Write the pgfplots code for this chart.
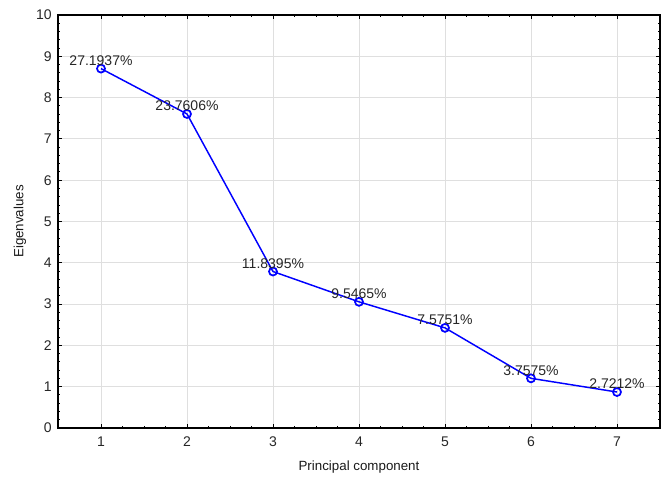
\documentclass[border=0pt]{standalone}
\usepackage{fontspec}
\setmainfont{Liberation Sans}
\usepackage{pgfplots}
\pgfplotsset{compat=1.18}
\begin{document}
\fontsize{10.5pt}{12pt}\selectfont
\begin{tikzpicture}
\useasboundingbox (-43.5pt,-36.75pt) rectangle (457.5pt,321pt);
\begin{axis}[
  scale only axis,
  width=451.5pt, height=309.75pt,
  xmin=0.5, xmax=7.5, ymin=0, ymax=10,
  xtick={1,...,7}, ytick={0,...,10},
  minor x tick num=3, minor y tick num=4,
  tick align=inside,
  major tick length=3pt, minor tick length=1.8pt,
  axis line style={black, line width=1.3pt},
  every tick/.style={black, line width=0.7pt},
  grid=major,
  major grid style={gray!25, line width=0.7pt},
  /pgf/number format/assume math mode=true,
  tick label style={font=\fontsize{10.5pt}{12pt}\selectfont, text=black!85},
  xticklabel style={yshift=-3pt},
  yticklabel style={xshift=-1pt},
  xlabel={Principal component},
  ylabel={Eigenvalues},
  label style={font=\fontsize{10pt}{12pt}\selectfont, text=black!90},
  xlabel style={at={(axis description cs:0.5,0)}, anchor=base, yshift=-32pt},
  ylabel style={at={(axis description cs:0,0.5)}, anchor=base, yshift=26pt},
  nodes near coords,
  point meta=explicit symbolic,
  every node near coord/.style={anchor=base, yshift=2.5pt, inner sep=0pt, font=\fontsize{10.5pt}{12pt}\selectfont, text=black!85},
]
\addplot[blue, line width=1.1pt, mark=o, mark size=3pt, mark options={line width=1.3pt}]
  table[meta=lab] {
x y lab
1 8.701984 27.1937\%
2 7.603392 23.7606\%
3 3.78864 11.8395\%
4 3.05488 9.5465\%
5 2.424032 7.5751\%
6 1.2024 3.7575\%
7 0.870784 2.7212\%
};
\end{axis}
\end{tikzpicture}
\end{document}
